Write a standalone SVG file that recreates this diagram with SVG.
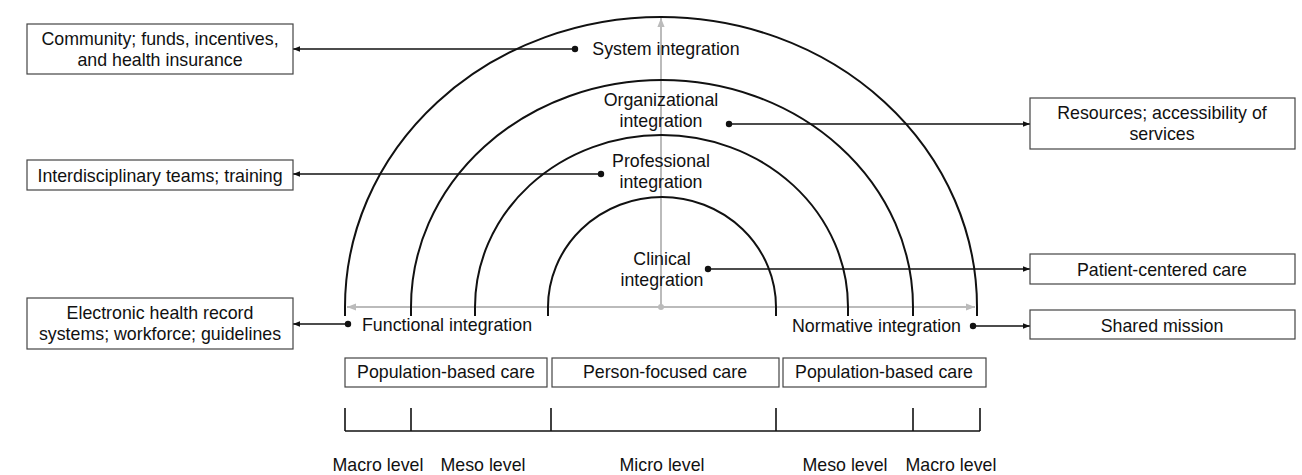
<svg xmlns="http://www.w3.org/2000/svg" width="1302" height="475" viewBox="0 0 1302 475">
<style>
text{font-family:"Liberation Sans",Arial,Helvetica,sans-serif;font-size:17.8px;fill:#111;text-anchor:middle}
.box{fill:#fff;stroke:#444;stroke-width:1.2}
.arc{fill:none;stroke:#111;stroke-width:2}
.con{fill:none;stroke:#111;stroke-width:1.3}
.axis{fill:none;stroke:#bbb;stroke-width:2}
.tick{fill:none;stroke:#111;stroke-width:1.6}
</style>
<defs>
<marker id="ah" viewBox="0 0 10 10" refX="10" refY="5" markerWidth="7" markerHeight="7" markerUnits="userSpaceOnUse" orient="auto-start-reverse"><path d="M0,1 L10,5 L0,9 Z" fill="#111"/></marker>
<marker id="gah" viewBox="0 0 10 10" refX="10" refY="5" markerWidth="9" markerHeight="9" markerUnits="userSpaceOnUse" orient="auto-start-reverse"><path d="M0,1 L10,5 L0,9 Z" fill="#bbb"/></marker>
</defs>
<rect width="1302" height="475" fill="#fff"/>

<g id="axes">
<line class="axis" x1="347" y1="307" x2="975" y2="307" marker-start="url(#gah)" marker-end="url(#gah)"/>
<line class="axis" x1="661" y1="307" x2="661" y2="18" marker-end="url(#gah)"/>
<circle cx="661" cy="307" r="3" fill="#bbb"/>
</g>

<g id="arcs">
<path id="arc-system" class="arc" d="M345,316 L345,307 A316,290 0 0 1 977,307 L977,316"/>
<path id="arc-organizational" class="arc" d="M411,316 L411,307 A251,227 0 0 1 913,307 L913,316"/>
<path id="arc-professional" class="arc" d="M475,316 L475,307 A186.5,172 0 0 1 848,307 L848,316"/>
<path id="arc-clinical" class="arc" d="M548,316 L548,307 A114,110 0 0 1 776,307 L776,316"/>
</g>

<g id="connectors">
<line class="con" x1="575" y1="49" x2="293" y2="49" marker-end="url(#ah)"/>
<circle cx="575" cy="49" r="3.2" fill="#111"/>
<line class="con" x1="601" y1="174" x2="293" y2="174" marker-end="url(#ah)"/>
<circle cx="601" cy="174" r="3.2" fill="#111"/>
<line class="con" x1="729" y1="124" x2="1030" y2="124" marker-end="url(#ah)"/>
<circle cx="729" cy="124" r="3.2" fill="#111"/>
<line class="con" x1="708" y1="269" x2="1030" y2="269" marker-end="url(#ah)"/>
<circle cx="708" cy="269" r="3.2" fill="#111"/>
<line class="con" x1="348" y1="324" x2="293" y2="324" marker-end="url(#ah)"/>
<circle cx="348" cy="324" r="3.2" fill="#111"/>
<line class="con" x1="973" y1="326" x2="1030" y2="326" marker-end="url(#ah)"/>
<circle cx="973" cy="326" r="3.2" fill="#111"/>
</g>

<g id="system-integration"><text x="666" y="55">System integration</text></g>
<g id="organizational-integration"><text x="661" y="106">Organizational</text><text x="661" y="127">integration</text></g>
<g id="professional-integration"><text x="661" y="167">Professional</text><text x="661" y="188">integration</text></g>
<g id="clinical-integration"><text x="662" y="265">Clinical</text><text x="662" y="286">integration</text></g>
<g id="functional-integration"><text x="362" y="331" style="text-anchor:start">Functional integration</text></g>
<g id="normative-integration"><text x="961" y="332" style="text-anchor:end">Normative integration</text></g>

<g id="box-community"><rect class="box" x="27" y="24" width="266" height="50"/><text x="160" y="45">Community; funds, incentives,</text><text x="160" y="66">and health insurance</text></g>
<g id="box-interdisciplinary"><rect class="box" x="27" y="160" width="266" height="30"/><text x="160" y="182">Interdisciplinary teams; training</text></g>
<g id="box-ehr"><rect class="box" x="27" y="298" width="266" height="51"/><text x="160" y="319">Electronic health record</text><text x="160" y="340">systems; workforce; guidelines</text></g>
<g id="box-resources"><rect class="box" x="1030" y="98" width="265" height="51"/><text x="1162" y="119">Resources; accessibility of</text><text x="1162" y="140">services</text></g>
<g id="box-patient"><rect class="box" x="1030" y="254" width="265" height="30"/><text x="1162" y="276">Patient-centered care</text></g>
<g id="box-shared"><rect class="box" x="1030" y="310" width="265" height="29"/><text x="1162" y="332">Shared mission</text></g>

<g id="care-population-left"><rect class="box" x="345" y="358" width="202" height="29"/><text x="446" y="378">Population-based care</text></g>
<g id="care-person"><rect class="box" x="552" y="358" width="227" height="29"/><text x="665" y="378">Person-focused care</text></g>
<g id="care-population-right"><rect class="box" x="783" y="358" width="203" height="29"/><text x="884" y="378">Population-based care</text></g>

<g id="levels">
<line class="tick" x1="345" y1="431" x2="980" y2="431"/>
<line class="tick" x1="345" y1="408" x2="345" y2="431"/>
<line class="tick" x1="411" y1="408" x2="411" y2="431"/>
<line class="tick" x1="551" y1="408" x2="551" y2="431"/>
<line class="tick" x1="776" y1="408" x2="776" y2="431"/>
<line class="tick" x1="913" y1="408" x2="913" y2="431"/>
<line class="tick" x1="980" y1="408" x2="980" y2="431"/>
<text x="378" y="471">Macro level</text>
<text x="483" y="471">Meso level</text>
<text x="662" y="471">Micro level</text>
<text x="845" y="471">Meso level</text>
<text x="951" y="471">Macro level</text>
</g>
</svg>
